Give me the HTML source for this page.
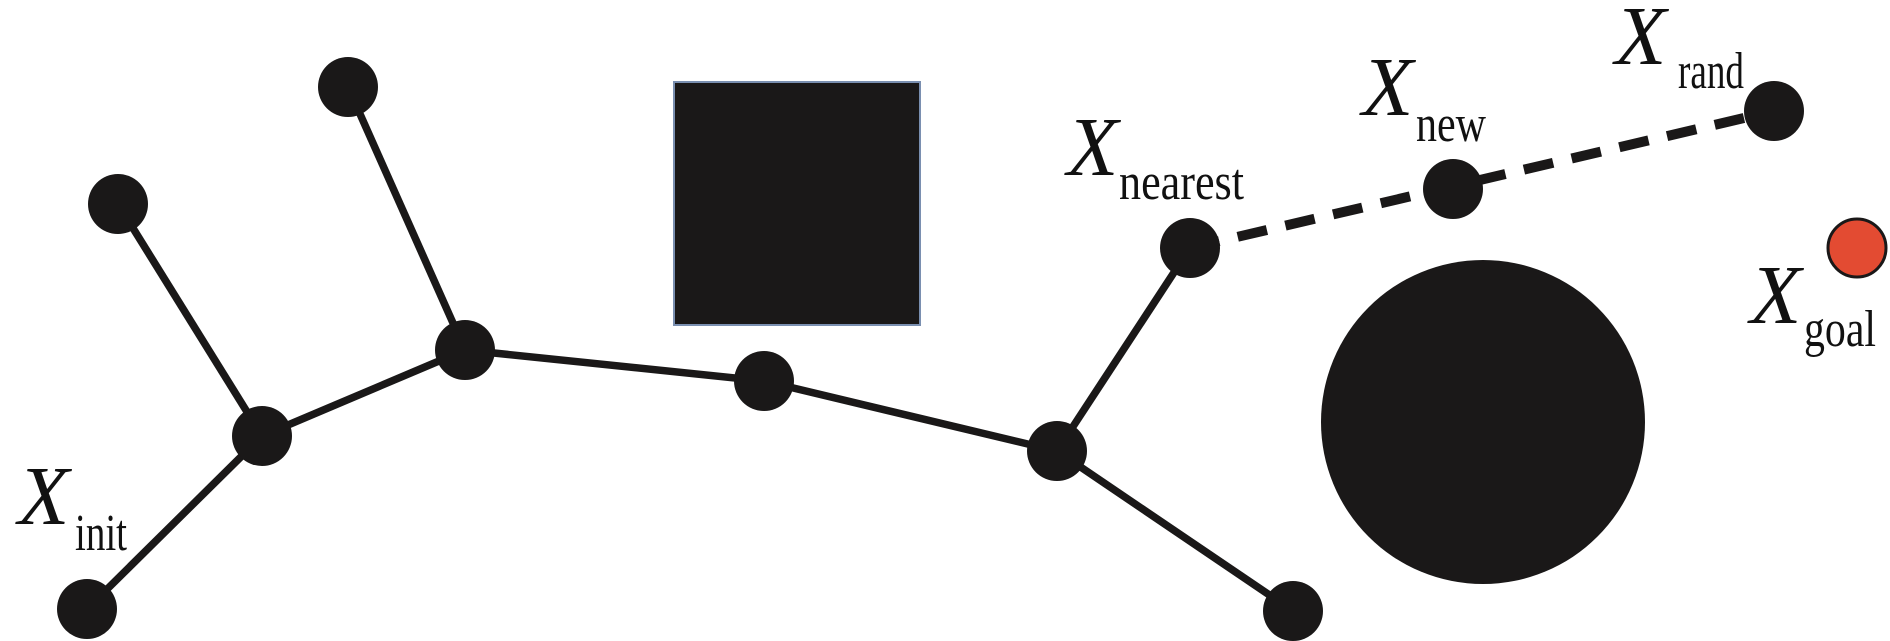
<!DOCTYPE html>
<html><head><style>
html,body{margin:0;padding:0;background:#fff;}
svg{display:block;}
text{font-family:"Liberation Serif",serif;fill:#111;}
.X{font-style:italic;font-size:84px;}
.s{font-size:52px;}
</style></head><body>
<svg width="1890" height="641" viewBox="0 0 1890 641" xmlns="http://www.w3.org/2000/svg">
<rect x="674" y="82" width="246" height="243" fill="#1a1818" stroke="#7a8fb0" stroke-width="2"/>
<ellipse cx="1483" cy="422" rx="162" ry="162" fill="#1a1818"/>
<g stroke="#1a1818" stroke-width="7.5" fill="none">
<line x1="87" y1="609" x2="262" y2="436"/>
<line x1="118" y1="204" x2="262" y2="436"/>
<line x1="262" y1="436" x2="465" y2="350"/>
<line x1="348" y1="87" x2="465" y2="350"/>
<line x1="465" y1="350" x2="764" y2="381"/>
<line x1="764" y1="381" x2="1057" y2="451"/>
<line x1="1057" y1="451" x2="1293" y2="611"/>
<line x1="1057" y1="451" x2="1190" y2="248"/>
</g>
<line x1="1190" y1="248" x2="1774" y2="111" stroke="#1a1818" stroke-width="10" stroke-dasharray="30 19"/>
<g fill="#1a1818">
<circle cx="348" cy="87" r="30"/>
<circle cx="118" cy="204" r="30"/>
<circle cx="262" cy="436" r="30"/>
<circle cx="465" cy="350" r="30"/>
<circle cx="764" cy="381" r="30"/>
<circle cx="1057" cy="451" r="30"/>
<circle cx="1293" cy="611" r="30"/>
<circle cx="87" cy="609" r="30"/>
<circle cx="1190" cy="248" r="30"/>
<circle cx="1453" cy="189" r="30"/>
<circle cx="1774" cy="111" r="30"/>
</g>
<circle cx="1857" cy="248" r="29" fill="#e34b32" stroke="#1a1818" stroke-width="3"/>
<text class="X" x="18" y="524">X</text><text class="s" x="75" y="550" textLength="52" lengthAdjust="spacingAndGlyphs">init</text>
<text class="X" x="1067" y="175">X</text><text class="s" x="1119" y="199" textLength="125" lengthAdjust="spacingAndGlyphs">nearest</text>
<text class="X" x="1362" y="115">X</text><text class="s" x="1416" y="141" textLength="70" lengthAdjust="spacingAndGlyphs">new</text>
<text class="X" x="1615" y="64">X</text><text class="s" x="1678" y="88" textLength="66" lengthAdjust="spacingAndGlyphs">rand</text>
<text class="X" x="1750" y="323">X</text><text class="s" x="1804" y="346" textLength="72" lengthAdjust="spacingAndGlyphs">goal</text>
</svg>
</body></html>
